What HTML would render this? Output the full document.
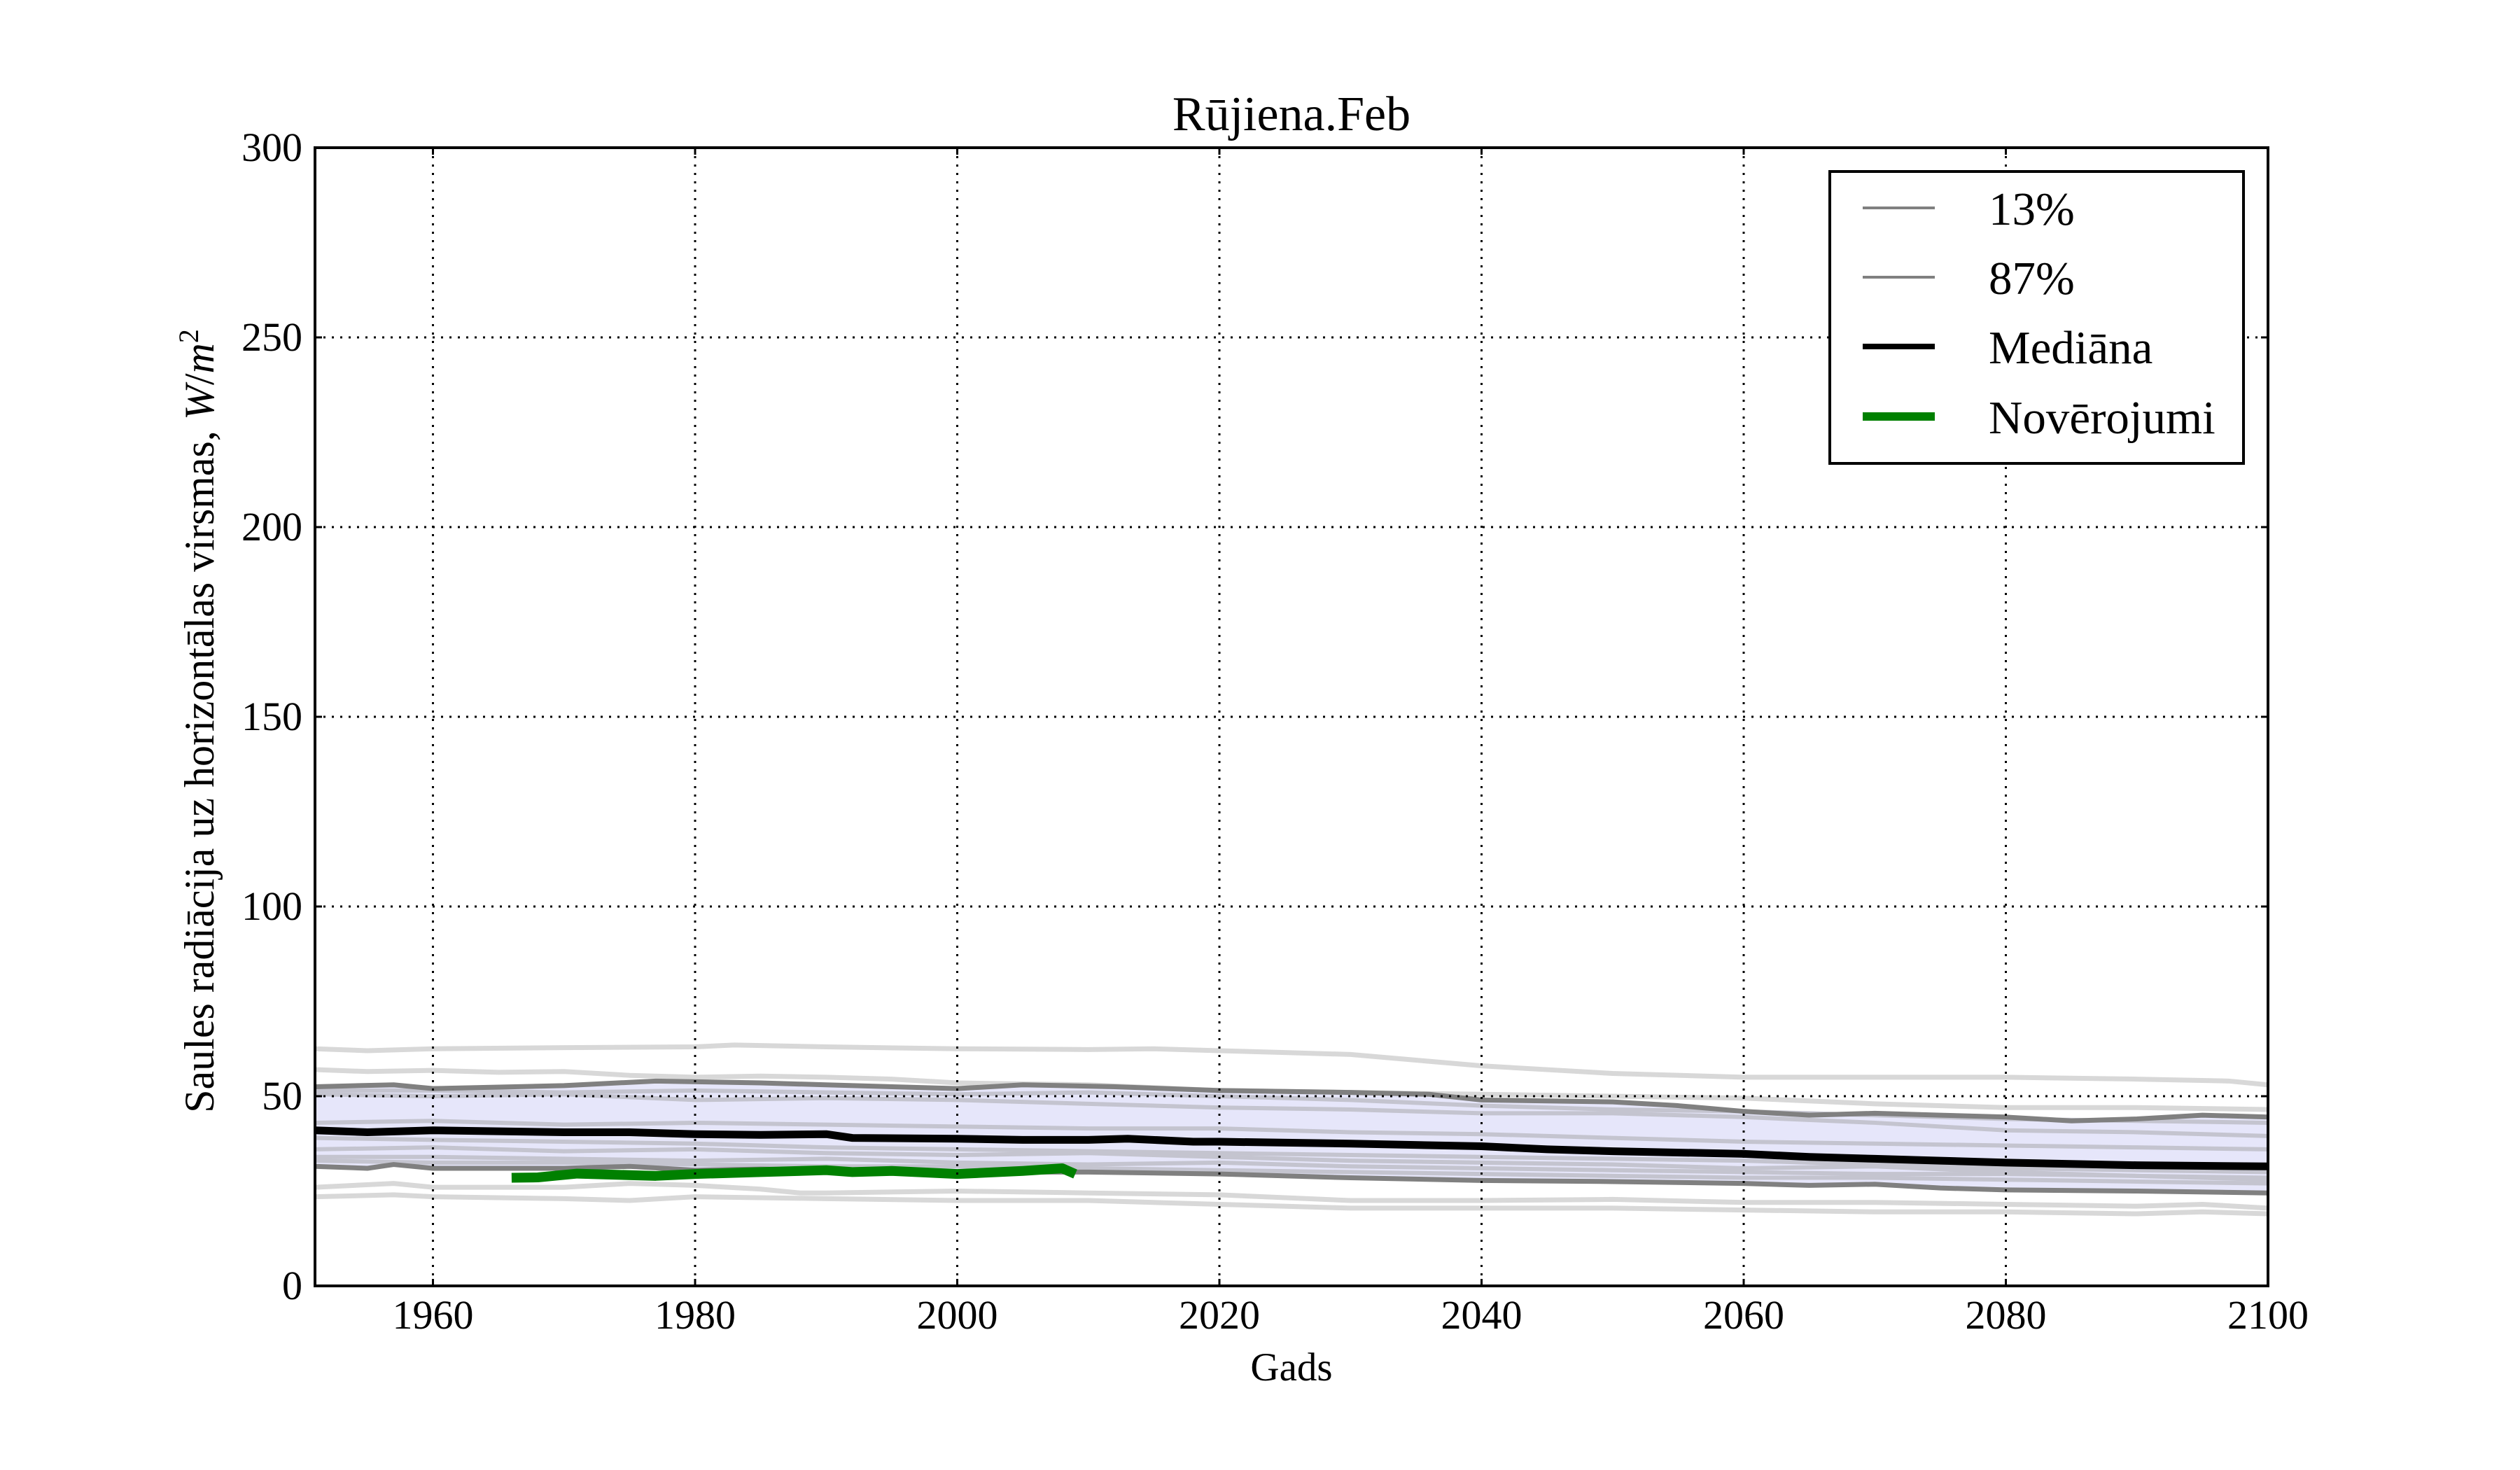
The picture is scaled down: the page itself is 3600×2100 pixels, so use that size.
<!DOCTYPE html>
<html><head><meta charset="utf-8"><style>
html,body{margin:0;padding:0;background:#fff;}
svg{display:block;font-family:"Liberation Serif",serif;}
</style></head><body>
<svg width="3600" height="2100" viewBox="0 0 3600 2100" xmlns="http://www.w3.org/2000/svg">
<rect width="3600" height="2100" fill="#fff"/>
<defs><clipPath id="c"><rect x="450" y="211" width="2790" height="1626"/></clipPath></defs>
<g clip-path="url(#c)">
<g transform="translate(450 1837) scale(18.725 -5.42) translate(-1951 0)" fill="none" stroke-linejoin="round">
<polygon fill="#e6e6fa" stroke="none" points="1951,52.5 1957,53 1960,52 1970,52.8 1977,54 1985,53.5 1990,53 2000,52 2005,53 2012,52.5 2020,51.5 2030,51 2036,50.5 2040,49 2050,48.5 2055,47.5 2060,46 2065,45 2070,45.5 2075,45 2080,44.5 2085,43.5 2090,44 2095,45 2100,44.5 2100,24.5 2090,25 2080,25.3 2075,25.8 2070,26.8 2065,26.5 2060,27 2050,27.5 2040,27.8 2030,28.5 2020,29.5 2010,30 2000,30 1990,30.5 1985,30.8 1980,30.5 1975,31.5 1970,31 1960,31 1957,32 1955,31 1951,31.5"/>
<g stroke="#d8d8d8" stroke-width="7">
<polyline vector-effect="non-scaling-stroke" points="1951,62.5 1955,62 1960,62.5 1970,62.8 1980,63 1983,63.5 1990,63 2000,62.5 2010,62.3 2015,62.5 2020,62 2025,61.5 2030,61 2035,59.5 2040,58 2045,57 2050,56 2060,55 2070,55 2080,55 2090,54.5 2097,54 2100,53"/>
<polyline vector-effect="non-scaling-stroke" points="1951,57 1955,56.5 1960,56.8 1965,56.3 1970,56.5 1975,55.5 1980,55 1985,55.3 1990,55 1995,54.5 2000,53.5 2010,53 2020,51.5 2030,51 2040,50.5 2050,50 2060,49.5 2070,48 2080,47 2090,47 2100,46.5"/>
<polyline vector-effect="non-scaling-stroke" points="1951,26 1957,27 1960,26 1970,26 1975,27 1980,26.5 1985,25.5 1988,24.5 1990,24.5 2000,25 2010,24.5 2020,24 2030,22.5 2040,22.5 2050,22.8 2060,22 2070,22 2080,21.5 2090,21 2095,21.5 2100,20.5"/>
<polyline vector-effect="non-scaling-stroke" points="1951,23.5 1957,24 1960,23.5 1970,23 1975,22.5 1980,23.5 1990,23 2000,22.5 2010,22.5 2020,21.5 2030,20.5 2040,20.5 2050,20.5 2060,20 2070,19.5 2080,19.5 2090,19 2095,19.5 2100,19"/>
</g>
<g stroke="#c4c4cf" stroke-width="6">
<polyline vector-effect="non-scaling-stroke" points="1951,51.5 1960,51.5 1970,51 1980,51.5 1990,51 2000,50.5 2010,51 2020,50 2030,49 2040,47.5 2050,46.5 2060,46 2070,45 2080,44 2090,43.5 2100,43"/>
<polyline vector-effect="non-scaling-stroke" points="1951,50.5 1960,50 1970,50.5 1980,49 1990,49.5 2000,49 2010,48 2020,47 2030,46.5 2040,45.5 2050,45.5 2060,44.5 2070,43 2080,41 2090,40.5 2100,39.5"/>
<polyline vector-effect="non-scaling-stroke" points="1951,43 1960,43.5 1970,42.5 1980,43 1990,42.5 2000,42 2010,41.5 2020,41.5 2030,40.5 2040,40 2050,39 2060,38 2070,37.5 2080,37 2090,36.5 2100,36"/>
<polyline vector-effect="non-scaling-stroke" points="1951,39 1960,38.5 1970,38 1980,37.5 1990,36.5 2000,36 2010,35.5 2020,35 2030,34.5 2040,34 2050,33.5 2060,33 2070,32 2080,31 2090,30.5 2100,30"/>
<polyline vector-effect="non-scaling-stroke" points="1951,36 1960,36.5 1970,35.5 1980,36 1990,35 2000,34.5 2010,35 2020,34 2030,33 2040,32.5 2050,32 2060,31 2070,31.5 2080,30 2090,29 2100,28"/>
<polyline vector-effect="non-scaling-stroke" points="1951,34 1960,34 1970,33.5 1980,33 1990,33.5 2000,32.5 2010,32 2020,32.5 2030,31.5 2040,31 2050,30.5 2060,30 2070,29.5 2080,29.5 2090,29 2100,28.5"/>
<polyline vector-effect="non-scaling-stroke" points="1951,33 1960,32.5 1970,32.5 1980,32 1990,31.5 2000,31.5 2010,31 2020,30.5 2030,30 2040,29.5 2050,29 2060,28.5 2070,28.5 2080,28 2090,27.5 2100,27"/>
</g>
<polyline stroke="#808080" stroke-width="7" vector-effect="non-scaling-stroke" points="1951,52.5 1957,53 1960,52 1970,52.8 1977,54 1985,53.5 1990,53 2000,52 2005,53 2012,52.5 2020,51.5 2030,51 2036,50.5 2040,49 2050,48.5 2055,47.5 2060,46 2065,45 2070,45.5 2075,45 2080,44.5 2085,43.5 2090,44 2095,45 2100,44.5"/>
<polyline stroke="#808080" stroke-width="7" vector-effect="non-scaling-stroke" points="1951,31.5 1955,31 1957,32 1960,31 1970,31 1975,31.5 1980,30.5 1985,30.8 1990,30.5 2000,30 2010,30 2020,29.5 2030,28.5 2040,27.8 2050,27.5 2060,27 2065,26.5 2070,26.8 2075,25.8 2080,25.3 2090,25 2100,24.5"/>
<polyline stroke="#000" stroke-width="11" vector-effect="non-scaling-stroke" points="1951,41 1955,40.5 1960,41 1970,40.5 1975,40.5 1980,40 1985,39.8 1990,40 1992,39 2000,38.8 2005,38.5 2010,38.5 2013,38.8 2018,38 2020,38 2030,37.5 2040,36.8 2045,36 2050,35.5 2060,34.8 2065,34 2070,33.5 2075,33 2080,32.5 2090,31.8 2100,31.5"/>
<polyline stroke="#008000" stroke-width="14" vector-effect="non-scaling-stroke" points="1966,28.5 1968,28.6 1971,29.6 1974,29.3 1977,29 1980,29.5 1985,30 1990,30.5 1992,30 1995,30.3 2000,29.5 2005,30.3 2008,31 2009,29.5"/>
</g>
<g stroke="#000" stroke-width="3" stroke-dasharray="3,9">
<line x1="618.5" y1="211" x2="618.5" y2="1837"/><line x1="993" y1="211" x2="993" y2="1837"/><line x1="1367.5" y1="211" x2="1367.5" y2="1837"/><line x1="1742" y1="211" x2="1742" y2="1837"/><line x1="2116.5" y1="211" x2="2116.5" y2="1837"/><line x1="2491" y1="211" x2="2491" y2="1837"/><line x1="2865.5" y1="211" x2="2865.5" y2="1837"/>
<line x1="450" y1="1566" x2="3240" y2="1566"/><line x1="450" y1="1295" x2="3240" y2="1295"/><line x1="450" y1="1024" x2="3240" y2="1024"/><line x1="450" y1="753" x2="3240" y2="753"/><line x1="450" y1="482" x2="3240" y2="482"/>
</g>
</g>
<g stroke="#000" stroke-width="3">
<path d="M618.5 1837v-10M993 1837v-10M1367.5 1837v-10M1742 1837v-10M2116.5 1837v-10M2491 1837v-10M2865.5 1837v-10M618.5 211v10M993 211v10M1367.5 211v10M1742 211v10M2116.5 211v10M2491 211v10M2865.5 211v10"/>
<path d="M450 1566h10M450 1295h10M450 1024h10M450 753h10M450 482h10M3240 1566h-10M3240 1295h-10M3240 1024h-10M3240 753h-10M3240 482h-10"/>
</g>
<rect x="450" y="211" width="2790" height="1626" fill="none" stroke="#000" stroke-width="4"/>
<g font-size="58" text-anchor="middle" fill="#000">
<text x="618.5" y="1898">1960</text><text x="993" y="1898">1980</text><text x="1367.5" y="1898">2000</text><text x="1742" y="1898">2020</text><text x="2116.5" y="1898">2040</text><text x="2491" y="1898">2060</text><text x="2865.5" y="1898">2080</text><text x="3240" y="1898">2100</text>
</g>
<g font-size="58" text-anchor="end" fill="#000">
<text x="432" y="1856">0</text><text x="432" y="1585">50</text><text x="432" y="1314">100</text><text x="432" y="1043">150</text><text x="432" y="772">200</text><text x="432" y="501">250</text><text x="432" y="230">300</text>
</g>
<text x="1845" y="186" font-size="70" text-anchor="middle">Rūjiena.Feb</text>
<text x="1845" y="1972" font-size="57" text-anchor="middle">Gads</text>
<text transform="translate(305 1030) rotate(-90)" font-size="60" text-anchor="middle">Saules radiācija uz horizontālas virsmas, <tspan font-style="italic">W</tspan>/<tspan font-style="italic">m</tspan><tspan font-size="40" dy="-22">2</tspan></text>
<rect x="2614" y="245" width="591" height="417" fill="#fff" stroke="#000" stroke-width="4"/>
<g>
<line x1="2661" y1="297" x2="2764" y2="297" stroke="#808080" stroke-width="4"/>
<line x1="2661" y1="396" x2="2764" y2="396" stroke="#808080" stroke-width="4"/>
<line x1="2661" y1="495" x2="2764" y2="495" stroke="#000" stroke-width="8"/>
<line x1="2661" y1="595" x2="2764" y2="595" stroke="#008000" stroke-width="12"/>
</g>
<g font-size="67" fill="#000">
<text x="2841" y="321">13%</text><text x="2841" y="420">87%</text><text x="2841" y="519">Mediāna</text><text x="2841" y="619">Novērojumi</text>
</g>
</svg>
</body></html>
